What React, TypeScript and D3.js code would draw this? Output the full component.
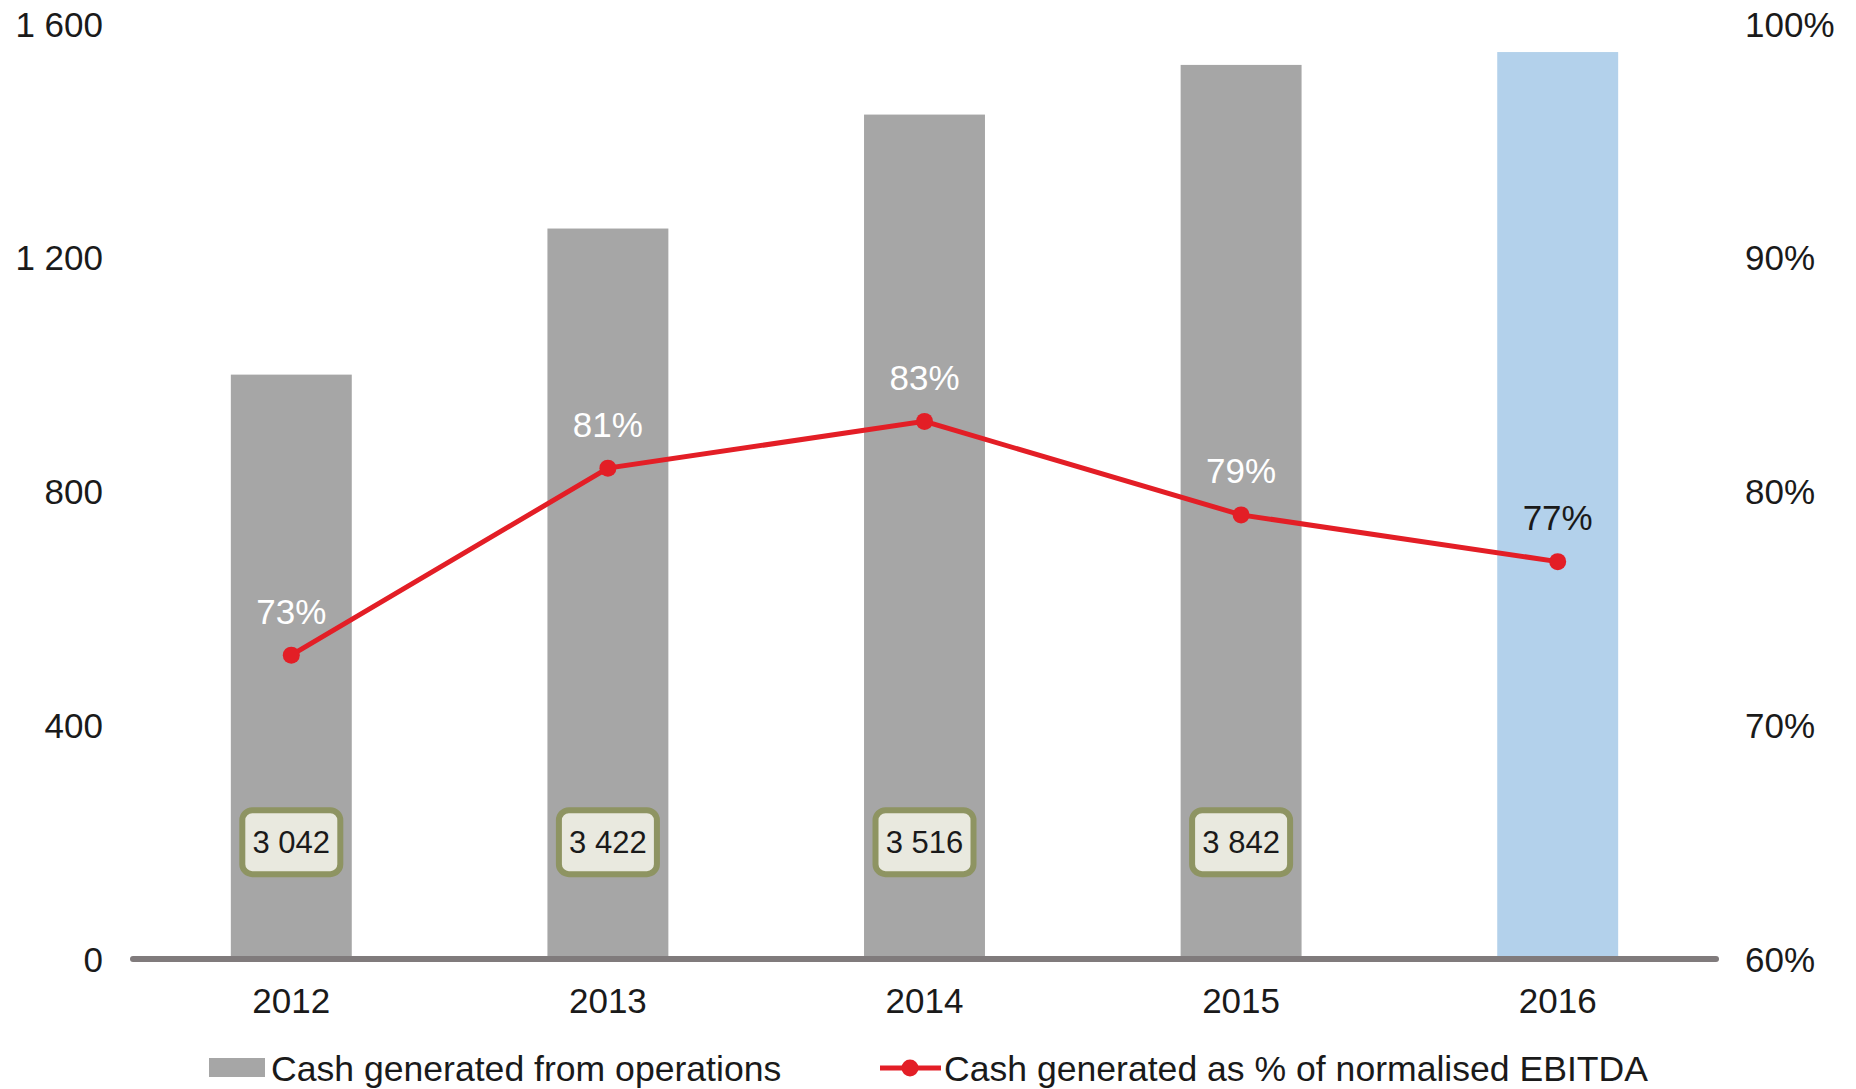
import React from "react";
import * as d3 from "d3";

const years = ["2012", "2013", "2014", "2015", "2016"];
const cashOps = [1000, 1250, 1445, 1530, 1552];
const cashPct = [0.73, 0.81, 0.83, 0.79, 0.77];
const ebitdaBoxes = ["3 042", "3 422", "3 516", "3 842"];
const leftTicks = [0, 400, 800, 1200, 1600];
const rightTicks = [0.6, 0.7, 0.8, 0.9, 1.0];
const legendLabels = ["Cash generated from operations", "Cash generated as % of normalised EBITDA"];

const W = 1856;
const H = 1089;
const FONT = "'Liberation Sans', Arial, sans-serif";
const GRAY = "#A6A6A6";
const BLUE = "#B3D1EB";
const RED = "#E31E26";
const TEXT = "#1a1a1a";

const locale = d3.formatLocale({ decimal: ".", thousands: " ", grouping: [3], currency: ["", ""] });
const fmtLeft = locale.format(",");
const fmtRight = d3.format(".0%");

export default function App() {
  const x = d3.scaleBand<string>().domain(years).range([133, 1716]).paddingInner(0.618).paddingOuter(0.309);
  const yL = d3.scaleLinear().domain([0, 1600]).range([959, 24]);
  const yR = d3.scaleLinear().domain([0.6, 1.0]).range([959, 24]);
  const cx = (y: string) => (x(y) as number) + x.bandwidth() / 2;
  const line = d3
    .line<number>()
    .x((_, i) => cx(years[i]))
    .y((d) => yR(d));
  const axisY = yL(0);

  return (
    <svg width={W} height={H} style={{ position: "absolute", left: 0, top: 0, background: "#fff" }} fontFamily={FONT}>
      {/* bars */}
      {cashOps.map((v, i) => (
        <rect
          key={years[i]}
          x={x(years[i])}
          y={yL(v)}
          width={x.bandwidth()}
          height={axisY - yL(v)}
          fill={i === years.length - 1 ? BLUE : GRAY}
        />
      ))}
      {/* axis line */}
      <line x1={133} x2={1716} y1={axisY} y2={axisY} stroke="#807B7C" strokeWidth={6} strokeLinecap="round" />
      {/* left ticks */}
      {leftTicks.map((t) => (
        <text key={t} x={103} y={yL(t)} dy="0.36em" textAnchor="end" fontSize={35} fill={TEXT}>
          {fmtLeft(t)}
        </text>
      ))}
      {/* right ticks */}
      {rightTicks.map((t) => (
        <text key={t} x={1745} y={yR(t)} dy="0.36em" textAnchor="start" fontSize={35} fill={TEXT}>
          {fmtRight(t)}
        </text>
      ))}
      {/* x labels */}
      {years.map((y) => (
        <text key={y} x={cx(y)} y={1000} dy="0.36em" textAnchor="middle" fontSize={35} fill={TEXT}>
          {y}
        </text>
      ))}
      {/* EBITDA boxes */}
      {ebitdaBoxes.map((b, i) => (
        <g key={b}>
          <rect
            x={cx(years[i]) - 49}
            y={yL(200) - 32}
            width={98}
            height={64}
            rx={10}
            fill="#E9E9DF"
            stroke="#8E9462"
            strokeWidth={6}
          />
          <text x={cx(years[i])} y={yL(200)} dy="0.36em" textAnchor="middle" fontSize={31} fill={TEXT}>
            {b}
          </text>
        </g>
      ))}
      {/* line */}
      <path d={line(cashPct) || ""} fill="none" stroke={RED} strokeWidth={5} />
      {cashPct.map((v, i) => (
        <circle key={years[i]} cx={cx(years[i])} cy={yR(v)} r={8.5} fill={RED} />
      ))}
      {cashPct.map((v, i) => (
        <text
          key={"l" + years[i]}
          x={cx(years[i])}
          y={yR(v) - 44}
          dy="0.36em"
          textAnchor="middle"
          fontSize={35}
          fill={i === years.length - 1 ? TEXT : "#ffffff"}
        >
          {fmtRight(v)}
        </text>
      ))}
      {/* legend */}
      <rect x={209} y={1058} width={56} height={19} fill={GRAY} />
      <text x={271} y={1068} dy="0.36em" fontSize={35.6} fill={TEXT}>
        {legendLabels[0]}
      </text>
      <line x1={880} x2={941} y1={1068} y2={1068} stroke={RED} strokeWidth={5} />
      <circle cx={910} cy={1068} r={8.5} fill={RED} />
      <text x={944} y={1068} dy="0.36em" fontSize={35.6} fill={TEXT}>
        {legendLabels[1]}
      </text>
    </svg>
  );
}
